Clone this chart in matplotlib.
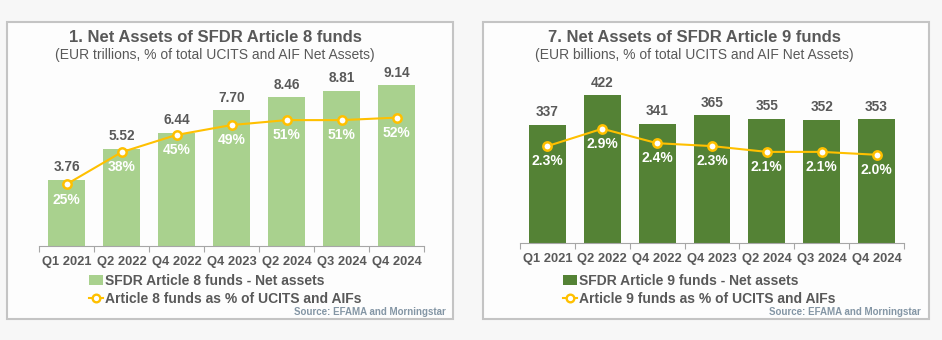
import numpy as np
import matplotlib
matplotlib.use('Agg')
import matplotlib.pyplot as plt
from matplotlib.patches import Rectangle, Patch
from matplotlib.lines import Line2D

plt.rcParams['font.family'] = ['Liberation Sans', 'DejaVu Sans']

quarters = ['Q1 2021', 'Q2 2022', 'Q4 2022', 'Q4 2023', 'Q2 2024', 'Q3 2024', 'Q4 2024']

art8_assets = [3.76, 5.52, 6.44, 7.70, 8.46, 8.81, 9.14]
art8_share = [25, 38, 45, 49, 51, 51, 52]
art8_asset_labels = ['3.76', '5.52', '6.44', '7.70', '8.46', '8.81', '9.14']
art8_share_labels = ['25%', '38%', '45%', '49%', '51%', '51%', '52%']

art9_assets = [337, 422, 341, 365, 355, 352, 353]
art9_share = [2.3, 2.9, 2.4, 2.3, 2.1, 2.1, 2.0]
art9_asset_labels = ['337', '422', '341', '365', '355', '352', '353']
art9_share_labels = ['2.3%', '2.9%', '2.4%', '2.3%', '2.1%', '2.1%', '2.0%']

W, H = 942, 340
bg = '#f7f7f7'
txt = '#595959'
gold = '#ffc000'

fig = plt.figure(figsize=(W/100, H/100), dpi=100, facecolor=bg)


def px_axes(x0, y0, x1, y1):
    # pixel box (top-left origin) -> figure axes
    return fig.add_axes([x0/W, 1-y1/H, (x1-x0)/W, (y1-y0)/H])


def panel(box, ax_box, assets, share, a_lab, s_lab, ylim, ylim2, color,
          title, subtitle, leg1, leg2, title_x, leg_x, src_x):
    bx0, by0, bx1, by1 = box
    fig.patches.append(Rectangle((bx0/W, 1-by1/H), (bx1-bx0)/W, (by1-by0)/H,
                                 transform=fig.transFigure, facecolor='#fdfdfd',
                                 edgecolor='#c4c4c4', lw=1.5, zorder=-5))
    ax = px_axes(*ax_box)
    ax.patch.set_alpha(0)
    x = np.arange(len(quarters))
    ax.bar(x, assets, width=0.67, color=color, zorder=2)
    ax.set_xlim(-0.5, len(quarters)-0.5)
    ax.set_ylim(*ylim)
    for s in ['top', 'right', 'left']:
        ax.spines[s].set_visible(False)
    ax.spines['bottom'].set_color('#a6a6a6')
    ax.set_yticks([])
    ax.set_xticks(np.arange(-0.5, len(quarters)))
    ax.set_xticklabels([])
    ax.tick_params(axis='x', which='major', length=4, color='#a6a6a6')
    ax.set_xticks(x, minor=True)
    ax.set_xticklabels(quarters, minor=True, fontsize=9.3, fontweight='bold', color=txt)
    ax.tick_params(axis='x', which='minor', length=0, pad=7)
    for xi, v, lab in zip(x, assets, a_lab):
        ax.annotate(lab, (xi, v), xytext=(0, 4), textcoords='offset points',
                    ha='center', va='bottom', fontsize=9.8, fontweight='bold', color=txt)

    ax2 = ax.twinx()
    ax2.set_ylim(*ylim2)
    ax2.axis('off')
    ax2.plot(x, share, color=gold, lw=1.5, marker='o', ms=6, mfc='white',
             mec=gold, mew=1.8, zorder=3)
    for xi, v, lab in zip(x, share, s_lab):
        ax2.annotate(lab, (xi, v), xytext=(0, -11), textcoords='offset points',
                     ha='center', va='center', fontsize=10, fontweight='bold', color='white')

    fig.text(title_x/W, 1-37/H, title, ha='center', va='center', fontsize=12,
             fontweight='bold', color=txt)
    fig.text(title_x/W, 1-55/H, subtitle, ha='center', va='center', fontsize=10, color=txt)

    handles = [Patch(facecolor=color, edgecolor='none'),
               Line2D([], [], color=gold, lw=1.5, marker='o', ms=5.5, mfc='white', mec=gold, mew=1.7)]
    fig.legend(handles, [leg1, leg2], loc='upper left', bbox_to_anchor=(leg_x/W, 1-274/H),
               frameon=False, prop={'weight': 'bold', 'size': 10},
               handlelength=1.0, handletextpad=0.15, labelspacing=0.3, borderpad=0,
               borderaxespad=0, labelcolor=txt)
    fig.text(src_x/W, 1-312/H, 'Source: EFAMA and Morningstar', ha='right', va='center',
             fontsize=7, fontweight='bold', color='#8496a5')


panel((7, 22, 453, 319), (39, 70, 424, 246), art8_assets, art8_share,
      art8_asset_labels, art8_share_labels, (0, 10), (0, 71.3), '#a9d18e',
      '1. Net Assets of SFDR Article 8 funds',
      '(EUR trillions, % of total UCITS and AIF Net Assets)',
      'SFDR Article 8 funds - Net assets', 'Article 8 funds as % of UCITS and AIFs',
      215, 89, 446)

panel((483, 22, 929, 319), (520, 68, 904, 243), art9_assets, art9_share,
      art9_asset_labels, art9_share_labels, (0, 500), (-1.05, 5.0), '#548235',
      '7. Net Assets of SFDR Article 9 funds',
      '(EUR billions, % of total UCITS and AIF Net Assets)',
      'SFDR Article 9 funds - Net assets', 'Article 9 funds as % of UCITS and AIFs',
      694, 563, 921)

fig.savefig('out.png', dpi=100, facecolor=bg)
